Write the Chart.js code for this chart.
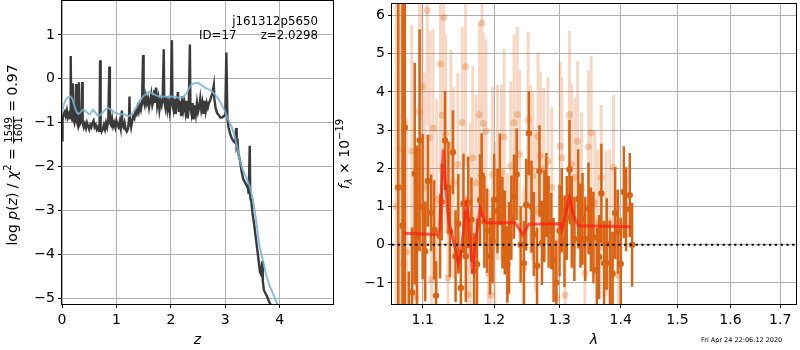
<!DOCTYPE html>
<html><head><meta charset="utf-8">
<script src="https://cdn.jsdelivr.net/npm/chart.js@4"></script>
<style>
html,body{margin:0;padding:0;background:#fff;}
#wrap{position:relative;width:800px;height:350px;overflow:hidden;}
canvas{position:absolute;top:0;}
</style></head>
<body><div id="wrap"><canvas id="c1" width="340" height="350" style="left:0"></canvas><canvas id="c2" width="470" height="350" style="left:330px"></canvas></div>
<script>
// ---------- left panel: log p(z) ----------
const zTicks = [0, 1, 2, 3, 4];
const pTicks = [-5, -4, -3, -2, -1, 0, 1];
const zDark = [0.00,0.01,0.03,0.05,0.07,0.09,0.11,0.13,0.15,0.16,0.17,0.19,0.20,0.21,0.23,0.25,0.26,0.27,0.29,0.30,0.31,0.32,0.34,0.36,0.37,0.38,0.40,0.42,0.44,0.46,0.48,0.50,0.52,0.54,0.56,0.58,0.60,0.62,0.64,0.66,0.68,0.69,0.70,0.71,0.73,0.75,0.77,0.79,0.81,0.83,0.85,0.87,0.88,0.90,0.92,0.94,0.96,0.98,1.00,1.02,1.04,1.06,1.08,1.10,1.11,1.13,1.15,1.17,1.19,1.21,1.23,1.24,1.25,1.27,1.29,1.31,1.33,1.35,1.37,1.39,1.41,1.43,1.45,1.47,1.49,1.50,1.52,1.54,1.56,1.58,1.60,1.62,1.64,1.66,1.68,1.70,1.71,1.73,1.75,1.77,1.79,1.81,1.83,1.85,1.87,1.88,1.90,1.92,1.94,1.96,1.98,2.00,2.02,2.03,2.05,2.07,2.09,2.11,2.13,2.15,2.17,2.19,2.21,2.23,2.25,2.27,2.29,2.31,2.33,2.35,2.36,2.38,2.40,2.42,2.44,2.46,2.48,2.50,2.52,2.54,2.56,2.58,2.60,2.62,2.64,2.66,2.68,2.70,2.72,2.74,2.77,2.79,2.80,2.82,2.85,2.88,2.91,2.94,2.97,3.00,3.02,3.04,3.06,3.09,3.12,3.15,3.18,3.20,3.21,3.23,3.24,3.27,3.30,3.33,3.36,3.39,3.42,3.43,3.45,3.46,3.48,3.50,3.53,3.56,3.59,3.62,3.64,3.66,3.68,3.69,3.71,3.74,3.77,3.80,3.84];
const pDark = [-1.40,-0.95,-0.80,-0.75,-0.85,-0.72,-0.88,-0.80,-0.90,0.52,-0.75,-0.95,-0.10,-0.90,-1.00,-0.85,-0.12,-0.95,-1.05,-0.90,-0.08,-1.05,-1.00,-0.95,-0.07,-1.00,-1.10,-1.02,-1.12,-1.00,-1.08,-1.15,-1.05,-1.10,-1.00,-0.95,-1.10,-1.05,-1.15,-1.10,-1.18,-1.05,0.42,-1.10,-1.20,-1.15,-1.05,-1.15,-1.00,-1.10,-0.95,0.28,-1.00,-1.05,-0.90,-1.08,-1.00,-1.10,-0.95,-1.05,-1.10,-0.98,-1.12,-0.72,-1.05,-1.10,-1.00,-1.15,-1.20,-1.15,-0.95,-0.40,-0.95,-1.10,-0.95,-0.85,-0.90,-0.75,-0.80,-0.65,-0.75,-0.60,-0.70,-0.55,0.54,-0.50,-0.60,-0.40,-0.55,-0.45,-0.65,-0.50,-0.35,-0.60,-0.50,-0.25,-0.55,-0.20,-0.60,-0.45,-0.70,-0.50,-0.60,-0.45,0.67,-0.50,-0.65,-0.40,-0.70,-0.55,-0.75,-0.50,0.88,-0.55,-0.70,-0.45,-0.80,-0.55,-0.30,-0.75,-0.50,-0.85,-0.40,-0.70,-0.55,-0.75,-0.50,-0.90,-0.60,0.78,-0.65,-0.80,-0.55,-0.92,-0.60,-0.80,-0.55,-0.75,-0.65,-0.45,-0.70,-0.55,-0.80,-0.50,-0.72,-0.55,-0.65,-0.55,-0.50,-0.42,-0.30,-0.15,-0.45,-0.65,-0.78,-0.82,-0.88,-0.88,-0.85,-0.82,0.60,-0.90,-1.10,-1.25,-1.35,-1.42,-1.45,-1.12,-1.55,-1.48,-1.70,-1.85,-2.10,-2.28,-2.35,-2.42,-2.50,-2.62,-1.52,-2.70,-2.80,-3.05,-3.30,-3.60,-3.90,-4.20,-4.40,-4.45,-4.15,-4.60,-4.80,-4.88,-4.95,-5.05,-5.15];
const zBlue = [0.00,0.03,0.07,0.11,0.15,0.19,0.23,0.27,0.30,0.34,0.39,0.44,0.51,0.57,0.62,0.67,0.72,0.78,0.84,0.90,0.97,1.05,1.15,1.23,1.30,1.37,1.43,1.49,1.55,1.60,1.66,1.72,1.78,1.90,2.05,2.15,2.22,2.29,2.34,2.38,2.44,2.50,2.56,2.63,2.69,2.75,2.82,2.88,2.94,3.00,3.05,3.12,3.17,3.21,3.25,3.29,3.34,3.39,3.45,3.51,3.57,3.63,3.69,3.75,3.82,3.90,3.97];
const pBlue = [-0.77,-0.60,-0.47,-0.42,-0.40,-0.45,-0.62,-0.76,-0.80,-0.76,-0.70,-0.75,-0.81,-0.70,-0.78,-0.85,-0.80,-0.72,-0.66,-0.70,-0.77,-0.80,-0.81,-0.85,-0.78,-0.64,-0.50,-0.40,-0.34,-0.29,-0.33,-0.37,-0.40,-0.41,-0.40,-0.43,-0.42,-0.33,-0.20,-0.13,-0.10,-0.09,-0.14,-0.20,-0.24,-0.28,-0.37,-0.47,-0.60,-0.75,-0.92,-1.10,-1.30,-1.50,-1.75,-1.95,-2.12,-2.25,-2.45,-2.75,-3.25,-3.81,-4.12,-4.45,-4.72,-4.95,-5.15];

// ---------- right panel: spectrum ----------
const lamTicks = [1.1, 1.2, 1.3, 1.4, 1.5, 1.6, 1.7];
const fTicks = [-1, 0, 1, 2, 3, 4, 5, 6];
const lamA = [1.0678,1.0733,1.0764,1.0816,1.0859,1.0894,1.0925,1.0960,1.1000,1.1034,1.1070,1.1115,1.1155,1.1181,1.1236,1.1258,1.1304,1.1350,1.1371,1.1413,1.1450,1.1488,1.1524,1.1561,1.1593,1.1627,1.1673,1.1711,1.1753,1.1796,1.1819,1.1858,1.1897,1.1940,1.1977,1.2001,1.2049,1.2084,1.2122,1.2157,1.2195,1.2220,1.2254,1.2294,1.2334,1.2394,1.2443,1.2477,1.2518,1.2559,1.2594,1.2644,1.2681,1.2720,1.2757,1.2788,1.2823,1.2865,1.2901,1.2944,1.2995,1.3030,1.3073,1.3110,1.3153,1.3190,1.3232,1.3295,1.3330,1.3364,1.3408,1.3461,1.3500,1.3542,1.3598,1.3637,1.3674,1.3719,1.3763,1.3818,1.3862,1.3905,1.3951,1.4000,1.4053,1.4092,1.4155,1.4195];
const fluxA = [1.5,0.5,3.07,-1.9,-1.25,1.86,0.2,2.73,1.0,-0.17,1.67,0.84,0.39,-1.33,0.22,1.12,2.73,1.5,0.35,2.42,-0.30,0.55,-1.13,1.08,-0.30,1.11,0.66,-0.70,-0.51,1.17,1.82,0.60,0.37,-0.30,0.09,1.18,0.88,1.71,0.58,0.32,-0.51,-0.08,0.71,1.26,1.84,0.00,-0.48,1.05,2.92,1.00,0.28,-0.55,1.93,0.05,0.75,1.30,0.60,0.36,-0.40,-0.99,0.37,0.90,0.09,0.70,1.97,0.60,0.15,1.20,0.50,0.68,0.15,0.95,0.40,0.19,-0.66,-0.32,1.34,-0.48,0.02,-0.48,-0.76,0.83,0.34,-0.50,1.38,0.93,1.30,0.00];
const errA = [8,8,7,1.2,1.7,2.9,2.4,2.9,1.9,1.3,1.2,1.0,1.3,0.9,1.1,1.0,1.3,1.2,1.2,1.1,1.2,1.3,1.0,1.3,1.2,1.2,1.1,1.0,1.2,1.2,1.1,1.2,1.1,1.0,1.1,1.2,1.1,1.2,1.2,1.1,1.0,1.2,1.1,1.1,1.2,1.0,1.1,1.2,1.1,1.2,1.1,1.0,1.2,1.1,1.2,1.1,1.2,1.0,1.1,1.1,1.2,1.1,1.2,1.1,1.3,1.2,1.1,1.3,1.1,1.2,1.1,1.2,1.1,1.2,1.1,1.1,1.3,1.1,1.2,1.1,1.1,1.2,1.1,1.2,1.2,1.1,1.1,1.1];
const lamB = [1.0650,1.0700,1.0745,1.0790,1.0855,1.0912,1.0955,1.0990,1.1030,1.1061,1.1097,1.1120,1.1141,1.1190,1.1241,1.1268,1.1286,1.1313,1.1345,1.1385,1.1423,1.1482,1.1543,1.1589,1.1621,1.1655,1.1692,1.1739,1.1786,1.1824,1.1843,1.1882,1.1919,1.1953,1.1977,1.2010,1.2049,1.2107,1.2147,1.2195,1.2245,1.2294,1.2343,1.2378,1.2443,1.2507,1.2543,1.2578,1.2619,1.2659,1.2695,1.2746,1.2812,1.2874,1.2952,1.3005,1.3030,1.3084,1.3152,1.3189,1.3243,1.3284,1.3348,1.3403,1.3462,1.3505,1.3566,1.3616,1.3671,1.3753,1.3815,1.3877,1.3961];
const fluxB = [1.0,2.5,-0.5,-0.19,2.45,-1.36,3.49,4.14,1.5,6.13,2.80,-0.91,3.05,1.2,4.73,3.39,5.95,2.90,-0.86,2.6,1.62,2.10,3.20,4.66,-1.30,0.8,2.28,1.62,3.40,5.80,3.17,2.97,-0.75,-1.32,1.84,0.5,1.89,1.89,2.82,-0.23,2.06,3.20,3.40,2.36,-0.62,3.26,1.97,1.80,0.87,2.83,2.32,2.00,2.19,1.50,-1.40,2.58,2.28,-1.32,3.40,2.10,1.76,2.71,1.46,-0.75,2.56,2.93,1.10,0.59,1.76,0.55,0.59,2.02,-0.80];
const errB = [6,5,4,3.5,3.3,3.0,3.0,3.0,3.0,3.0,2.8,2.6,2.6,2.6,2.8,2.6,2.8,2.6,2.4,2.5,2.5,2.4,2.5,2.6,2.4,2.4,2.4,2.3,2.4,2.6,2.4,2.4,2.2,2.2,2.3,2.2,2.3,2.3,2.3,2.1,2.2,2.3,2.3,2.2,2.1,2.3,2.2,2.2,2.1,2.2,2.2,2.1,2.2,2.1,2.0,2.2,2.1,2.0,2.2,2.1,2.1,2.1,2.0,2.0,2.0,2.0,1.9,1.9,1.9,1.9,1.9,1.9,1.8];
const lamM = [1.0753,1.1187,1.1230,1.1279,1.1304,1.1350,1.1440,1.1488,1.1520,1.1598,1.1629,1.1689,1.1720,1.1796,1.1860,1.1905,1.2309,1.2360,1.2428,1.2518,1.3000,1.3031,1.3153,1.3220,1.3296,1.4177];
const fluxM = [0.30,0.27,0.40,2.49,1.75,0.65,-0.06,-0.49,-0.30,1.04,0.69,-0.75,-0.10,0.95,0.62,0.57,0.58,0.45,0.26,0.54,0.55,0.40,1.24,0.75,0.50,0.47];
const zeroLam = [1.0597, 1.7330];
const zeroFlux = [0, 0];

const FONT = '"DejaVu Sans"';
Chart.defaults.font.family = FONT;
Chart.defaults.font.size = 14;
Chart.defaults.color = '#000';

function minus(v){ return v < 0 ? '\u2212' + Math.abs(v) : String(v); }
const pts = (xs, ys) => xs.map((x, i) => ({x, y: ys[i]}));
const errSegs = (xs, ys, es) => xs.flatMap((x, i) => [{x, y: ys[i] - es[i]}, {x, y: ys[i] + es[i]}, {x, y: null}]);

function frame(chart){
  const a = chart.chartArea, c = chart.ctx;
  c.save(); c.strokeStyle = '#000'; c.lineWidth = 1;
  c.strokeRect(Math.round(a.left) - 0.5, Math.round(a.top) - 0.5, Math.round(a.right - a.left) + 1, Math.round(a.bottom - a.top) + 1);
  c.restore();
}
function putter(c){
  const st = {x: 0};
  st.put = (t, f, dy) => { c.font = f; c.fillText(t, st.x, dy || 0); st.x += c.measureText(t).width; };
  return st;
}
const F14 = '14px ' + FONT, I14 = 'oblique 14px ' + FONT, F10 = '10px ' + FONT, I10 = 'oblique 10px ' + FONT;

function gridOpts(){ return {color: '#b0b0b0', lineWidth: 1, tickColor: '#000', tickLength: 4, drawTicks: true}; }

const leftPlugin = {
  id: 'leftDecor',
  afterDatasetsDraw(chart){
    frame(chart);
    const c = chart.ctx;
    c.save(); c.fillStyle = '#000'; c.textBaseline = 'alphabetic';
    c.font = '11.8px ' + FONT;
    c.textAlign = 'right';
    c.fillText('j161312p5650', 318, 24.5);
    c.fillText('z=2.0298', 318, 38.5);
    c.textAlign = 'left';
    c.fillText('ID=17', 199, 38.5);
    // y label (mathtext-like)
    let total = 0;
    const seq = [['log ',F14],['p',I14],['(',F14],['z',I14],[') / ',F14],['\u03c7',I14],['2',F10],[' = ',F14]];
    seq.forEach(([t,f]) => { c.font = f; total += c.measureText(t).width; });
    c.font = F10; const fw = Math.max(c.measureText('1549').width, c.measureText('1601').width) + 2;
    c.font = F14; total += fw + c.measureText(' = 0.97').width;
    c.translate(17, 155 + total / 2);
    c.rotate(-Math.PI / 2);
    const p = putter(c);
    p.put('log ', F14); p.put('p', I14); p.put('(', F14); p.put('z', I14); p.put(') / ', F14); p.put('\u03c7', I14);
    p.put('2', F10, -6.5); p.put(' = ', F14);
    c.font = F10; c.textAlign = 'center';
    c.fillText('1549', p.x + fw / 2, -5);
    c.fillText('1601', p.x + fw / 2, 5);
    c.fillRect(p.x, -4, fw, 0.9);
    c.textAlign = 'left'; p.x += fw;
    p.put(' = 0.97', F14);
    c.restore();
  }
};
const OFF = 330;
const rightPlugin = {
  id: 'rightDecor',
  afterDatasetsDraw(chart){
    frame(chart);
    const c = chart.ctx;
    c.save(); c.fillStyle = '#000'; c.textBaseline = 'alphabetic';
    const seq = [['f',I14],['\u03bb',I10],[' \u00d7 10',F14],['\u221219',F10]];
    let total = 0; seq.forEach(([t,f]) => { c.font = f; total += c.measureText(t).width; });
    c.translate(349 - OFF, 154 + total / 2);
    c.rotate(-Math.PI / 2);
    const p = putter(c);
    p.put('f', I14); p.put('\u03bb', I10, 3); p.put(' \u00d7 10', F14); p.put('\u221219', F10, -6.5);
    c.restore();
    c.save(); c.fillStyle = '#000'; c.font = '6.5px ' + FONT; c.textBaseline = 'alphabetic';
    c.fillText('Fri Apr 24 22:06:12 2020', 701 - OFF, 342);
    c.restore();
  }
};

new Chart(document.getElementById('c1'), {
  type: 'scatter',
  data: { datasets: [
    { data: pts(zBlue, pBlue), showLine: true, borderColor: 'rgba(120,176,216,0.85)', borderWidth: 2, pointRadius: 0, tension: 0, order: 0, clip: 0 },
    { data: pts(zDark, pDark), showLine: true, borderColor: '#3a3a3a', borderWidth: 2.4, pointRadius: 0, tension: 0, order: 1, clip: 0 }
  ]},
  options: {
    responsive: false, animation: false, devicePixelRatio: 1,
    layout: { padding: { left: 0, right: 7, top: 1, bottom: 0 } },
    plugins: { legend: { display: false }, tooltip: { enabled: false } },
    scales: {
      x: { type: 'linear', min: 0, max: 4.98,
        afterBuildTicks: s => { s.ticks = zTicks.map(v => ({value: v})); },
        afterFit: s => { s.height = 46; s.paddingLeft = 0; s.paddingRight = 0; },
        grid: gridOpts(), border: { display: false },
        ticks: { callback: v => minus(v), padding: 4, maxRotation: 0, autoSkip: false },
        title: { display: true, text: 'z', font: { style: 'italic', size: 14 }, padding: { top: 0, bottom: 1 } } },
      y: { type: 'linear', min: -5.12, max: 1.77,
        afterBuildTicks: s => { s.ticks = pTicks.map(v => ({value: v})); },
        afterFit: s => { s.width = 62; s.paddingTop = 0; s.paddingBottom = 0; },
        grid: gridOpts(), border: { display: false },
        ticks: { callback: v => minus(v), padding: 3, autoSkip: false } }
    }
  },
  plugins: [leftPlugin]
});

const ORANGE = 'rgb(218,100,20)', ORANGE_L = 'rgba(218,100,20,0.25)', ORANGE_LD = 'rgba(218,100,20,0.3)';
new Chart(document.getElementById('c2'), {
  type: 'scatter',
  data: { datasets: [
    { data: pts(zeroLam, zeroFlux), showLine: true, borderColor: '#000', borderWidth: 1.8, borderDash: [2.2, 3.6], pointRadius: 0, order: 0, clip: 0 },
    { data: pts(lamM, fluxM), showLine: true, borderColor: 'rgba(255,25,15,0.7)', borderWidth: 3, pointRadius: 0, tension: 0, order: 1, clip: 0 },
    { data: pts(lamA, fluxA), showLine: false, pointRadius: 3.2, pointBackgroundColor: ORANGE, pointBorderWidth: 0, order: 2, clip: 0 },
    { data: errSegs(lamA, fluxA, errA), showLine: true, spanGaps: false, borderColor: ORANGE, borderWidth: 2.5, borderCapStyle: 'butt', pointRadius: 0, order: 3, clip: 0 },
    { data: pts(lamB, fluxB), showLine: false, pointRadius: 3.5, pointBackgroundColor: ORANGE_LD, pointBorderWidth: 0, order: 4, clip: 0 },
    { data: errSegs(lamB, fluxB, errB), showLine: true, spanGaps: false, borderColor: ORANGE_L, borderWidth: 3, borderCapStyle: 'butt', pointRadius: 0, order: 5, clip: 0 }
  ]},
  options: {
    responsive: false, animation: false, devicePixelRatio: 1,
    layout: { padding: { left: 0, right: 1, top: 1, bottom: 0 } },
    plugins: { legend: { display: false }, tooltip: { enabled: false } },
    scales: {
      x: { type: 'logarithmic', min: 1.0597, max: 1.733,
        afterBuildTicks: s => { s.ticks = lamTicks.map(v => ({value: v})); },
        afterFit: s => { s.height = 46; s.paddingLeft = 0; s.paddingRight = 0; },
        grid: gridOpts(), border: { display: false },
        ticks: { callback: v => Number(v).toFixed(1), padding: 4, maxRotation: 0, autoSkip: false },
        title: { display: true, text: '\u03bb', font: { style: 'italic', size: 14 }, padding: { top: 0, bottom: 1 } } },
      y: { type: 'linear', min: -1.55, max: 6.3,
        afterBuildTicks: s => { s.ticks = fTicks.map(v => ({value: v})); },
        afterFit: s => { s.width = 392 - OFF; s.paddingTop = 0; s.paddingBottom = 0; },
        grid: gridOpts(), border: { display: false },
        ticks: { callback: v => minus(v), padding: 3, autoSkip: false } }
    }
  },
  plugins: [rightPlugin]
});
</script></body></html>
